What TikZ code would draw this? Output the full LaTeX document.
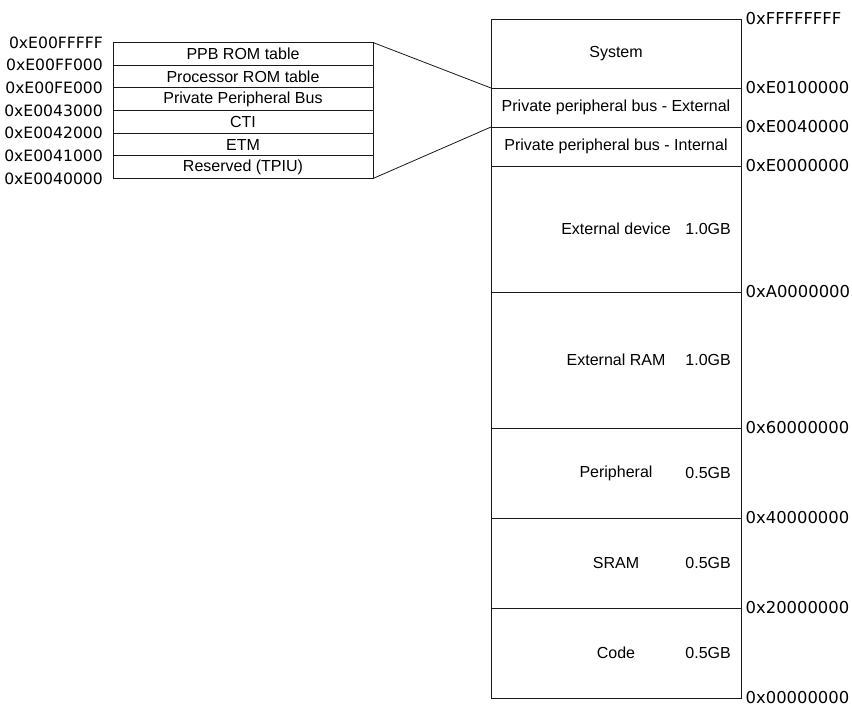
\documentclass[tikz,border=0pt]{standalone}
\usepackage{fontspec}
\setmainfont{Liberation Sans}
\newfontfamily\hexfont{DejaVu Sans}
\begin{document}
\begin{tikzpicture}[x=1pt,y=-1pt,
  lw/.style={draw=black!90, line width=1pt},
  region/.style={lw, minimum width=250pt, inner sep=0pt, outer sep=0pt, font=\fontsize{16}{18}\selectfont},
  row/.style={lw, minimum width=260pt, minimum height=22.67pt, inner sep=0pt, outer sep=0pt, font=\fontsize{16}{18}\selectfont},
  addrR/.style={anchor=west, inner sep=0pt, font=\hexfont\fontsize{16.4}{18}\selectfont},
  addrL/.style={anchor=east, inner sep=0pt, font=\hexfont\fontsize{15.6}{18}\selectfont},
  gb/.style={anchor=east, inner sep=0pt, font=\fontsize{16}{18}\selectfont}]
\useasboundingbox (0,0) rectangle (852,713);
% main memory map
\node[region, minimum height=69pt]  (sys)  at (616,53.5)  {System};
\node[region, minimum height=39pt]  (ext)  at (616,107.5) {Private peripheral bus - External};
\node[region, minimum height=39pt]  (int)  at (616,146.5) {Private peripheral bus - Internal};
\node[region, minimum height=126pt] (dev)  at (616,229)   {External device};
\node[region, minimum height=136pt] (ram)  at (616,360)   {External RAM};
\node[region, minimum height=90pt]  (per)  at (616,473)   {Peripheral};
\node[region, minimum height=90pt]  (sram) at (616,563)   {SRAM};
\node[region, minimum height=90pt]  (code) at (616,653)   {Code};
% sizes
\node[gb] (gdev)  at ([xshift=-10pt]dev.east)  {1.0GB};
\node[gb] (gram)  at ([xshift=-10pt]ram.east)  {1.0GB};
\node[gb] (gper)  at ([xshift=-10pt]per.east)  {0.5GB};
\node[gb] (gsram) at ([xshift=-10pt]sram.east) {0.5GB};
\node[gb] (gcode) at ([xshift=-10pt]code.east) {0.5GB};
% right addresses
\node[addrR] (a0) at ([xshift=4.5pt]sys.north east)  {0xFFFFFFFF};
\node[addrR] (a1) at ([xshift=4.5pt]ext.north east)  {0xE0100000};
\node[addrR] (a2) at ([xshift=4.5pt]int.north east)  {0xE0040000};
\node[addrR] (a3) at ([xshift=4.5pt]dev.north east)  {0xE0000000};
\node[addrR] (a4) at ([xshift=4.5pt]ram.north east)  {0xA0000000};
\node[addrR] (a5) at ([xshift=4.5pt]per.north east)  {0x60000000};
\node[addrR] (a6) at ([xshift=4.5pt]sram.north east) {0x40000000};
\node[addrR] (a7) at ([xshift=4.5pt]code.north east) {0x20000000};
\node[addrR] (a8) at ([xshift=4.5pt]code.south east) {0x00000000};
% PPB detail table
\node[row] (r1) at (243,53.83)  {PPB ROM table};
\node[row] (r2) at (243,76.5)   {Processor ROM table};
\node[row] (r3) at (243,99.17)  {Private Peripheral Bus};
\node[row] (r4) at (243,121.83) {CTI};
\node[row] (r5) at (243,144.5)  {ETM};
\node[row] (r6) at (243,167.17) {Reserved (TPIU)};
% left addresses
\node[addrL] (b0) at ([xshift=-10pt]r1.north west) {0xE00FFFFF};
\node[addrL] (b1) at ([xshift=-10pt]r2.north west) {0xE00FF000};
\node[addrL] (b2) at ([xshift=-10pt]r3.north west) {0xE00FE000};
\node[addrL] (b3) at ([xshift=-10pt]r4.north west) {0xE0043000};
\node[addrL] (b4) at ([xshift=-10pt]r5.north west) {0xE0042000};
\node[addrL] (b5) at ([xshift=-10pt]r6.north west) {0xE0041000};
\node[addrL] (b6) at ([xshift=-10pt]r6.south west) {0xE0040000};
% connectors
\draw[lw, line width=0.8pt] (r1.north east) -- (ext.north west);
\draw[lw, line width=0.8pt] (r6.south east) -- (int.north west);
\end{tikzpicture}
\end{document}
